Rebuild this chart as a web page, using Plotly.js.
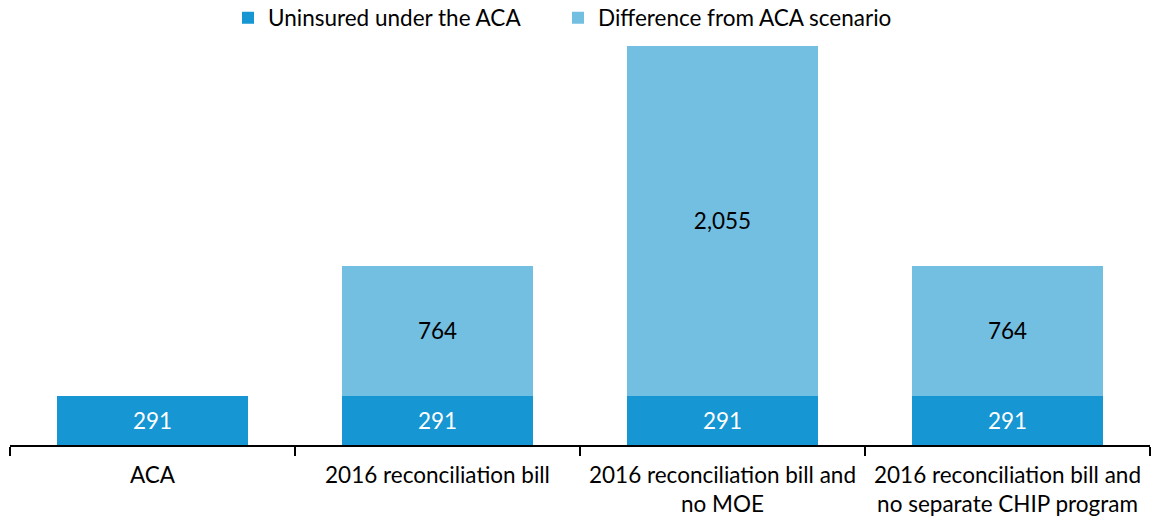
<!DOCTYPE html>
<html>
<head>
<meta charset="utf-8">
<script src="https://cdn.plot.ly/plotly-3.0.1.min.js"></script>
<style>html,body{margin:0;padding:0;background:#fff;}#chart{width:1151px;height:519px;}</style>
</head>
<body>
<div id="chart"></div>
<script>
var categories = [
  "ACA",
  "2016 reconciliation bill",
  "2016 reconciliation bill and<br>no MOE",
  "2016 reconciliation bill and<br>no separate CHIP program"
];
var uninsuredACA = [291, 291, 291, 291];
var differenceFromACA = [null, 764, 2055, 764];
var seriesNames = ["Uninsured under the ACA", "Difference from ACA scenario"];

var font = "Lato, 'Open Sans', sans-serif";

var traces = [
  {
    type: "bar", name: seriesNames[0], x: categories, y: uninsuredACA,
    marker: {color: "#1696d2"}, legend: "legend",
    texttemplate: "%{y:,}", textposition: "inside", insidetextanchor: "middle",
    textfont: {family: font, size: 22.5, color: "#ffffff"},
    hoverinfo: "none"
  },
  {
    type: "bar", name: seriesNames[1], x: categories, y: differenceFromACA,
    marker: {color: "#73bfe2"}, legend: "legend2",
    texttemplate: "%{y:,}", textposition: "inside", insidetextanchor: "middle",
    textfont: {family: font, size: 22.5, color: "#000000"},
    hoverinfo: "none"
  }
];

function legendAt(xpx) {
  return {
    orientation: "h", xref: "container", yref: "container",
    x: xpx / 1151, xanchor: "left", y: 1 - 18 / 519, yanchor: "middle",
    font: {family: font, size: 22.5, color: "#000"},
    itemwidth: 30, bgcolor: "rgba(0,0,0,0)"
  };
}

var layout = {
  width: 1151, height: 519,
  margin: {l: 10, r: 1, t: 37, b: 74, autoexpand: false},
  barmode: "stack",
  bargap: 0.333,
  paper_bgcolor: "#fff", plot_bgcolor: "#fff",
  font: {family: font, size: 22.5, color: "#000"},
  showlegend: true,
  legend: legendAt(228),
  legend2: legendAt(558),
  xaxis: {
    type: "category",
    showline: true, linecolor: "#000", linewidth: 2,
    ticks: "outside", tickson: "boundaries", ticklen: 9, tickwidth: 2, tickcolor: "#000",
    ticklabelstandoff: 9,
    showgrid: false, zeroline: false,
    tickfont: {family: font, size: 22.5, color: "#000"}
  },
  yaxis: {
    range: [0, 2400],
    visible: false, showgrid: false, zeroline: false
  },
  uniformtext: {mode: false}
};

Plotly.newPlot("chart", traces, layout, {displayModeBar: false, staticPlot: true});
</script>
</body>
</html>
